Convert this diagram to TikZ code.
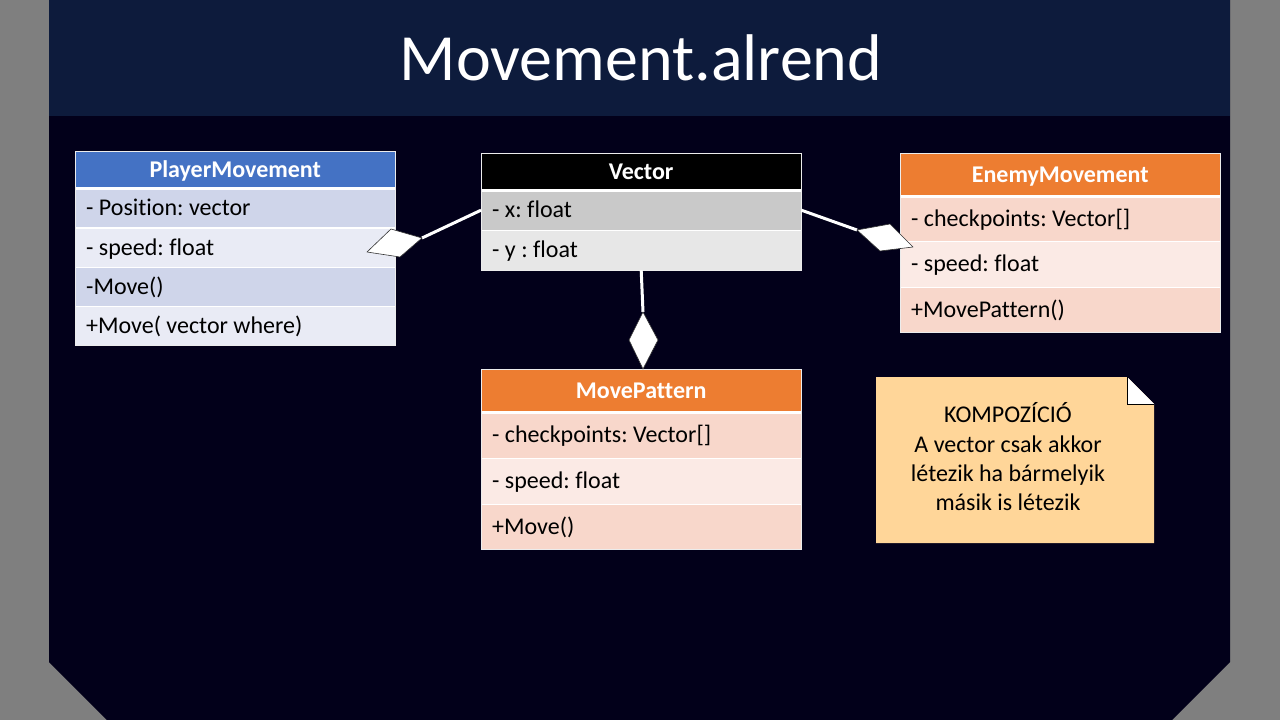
\documentclass[tikz,border=0pt]{standalone}
\usepackage{fontspec}
\setmainfont{Carlito}[Ligatures=NoCommon]
\frenchspacing
\definecolor{sidegray}{HTML}{7F7F7F}
\definecolor{panel}{HTML}{02001A}
\definecolor{band}{HTML}{0D1B3C}
\definecolor{blueH}{HTML}{4472C4}
\definecolor{blueA}{HTML}{CFD5EA}
\definecolor{blueB}{HTML}{E9EBF5}
\definecolor{grayA}{HTML}{C9C9C9}
\definecolor{grayB}{HTML}{E7E7E7}
\definecolor{orangeH}{HTML}{ED7D31}
\definecolor{orangeA}{HTML}{F8D7CB}
\definecolor{orangeB}{HTML}{FBEAE5}
\definecolor{notefill}{HTML}{FFD699}
\begin{document}
\begin{tikzpicture}[x=1pt,y=-1pt,
  clshead/.style={anchor=north west, minimum width=320, inner sep=0pt, text=white,
    font=\fontsize{24}{29}\selectfont\bfseries, text height=15.5pt, text depth=0pt},
  clsrow/.style={anchor=north west, minimum width=320, inner xsep=11pt, inner ysep=0pt,
    text width=298pt, align=flush left, text=black,
    font=\fontsize{24}{29}\selectfont\frenchspacing, text height=15.5pt, text depth=0pt},
  hsep/.style={white, line width=3pt},
  rsep/.style={white, line width=1.6pt},
  clsframe/.style={draw=white!85!gray, line width=1pt},
  conn/.style={white, line width=3pt},
  diam/.style={fill=white, draw=black!80, line width=0.6pt, line join=round},
]
\useasboundingbox (0,0) rectangle (1280,720);
% slide background and panel
\fill[sidegray] (0,0) rectangle (1280,720);
\fill[panel] (49,0) -- (1230,0) -- (1230,662) -- (1172,720) -- (107,720) -- (49,662) -- cycle;
\fill[band] (49,0) rectangle (1230,116);
\node[anchor=base, text=white, font=\fontsize{66}{70}\selectfont, inner sep=0pt] (title) at (641,80) {Movement.alrend};

% PlayerMovement
\node[clshead, fill=blueH, minimum height=37] (pmh) at (75,151) {PlayerMovement};
\node[clsrow, fill=blueA, minimum height=39.5] (pm1) at (75,188) {- Position: vector};
\node[clsrow, fill=blueB, minimum height=39.5] (pm2) at (75,227.5) {- speed: float};
\node[clsrow, fill=blueA, minimum height=39] (pm3) at (75,267) {-Move()};
\node[clsrow, fill=blueB, minimum height=39] (pm4) at (75,306) {+Move( vector where)};
\draw[hsep] (pmh.south west) -- (pmh.south east);
\draw[rsep] (pm1.south west) -- (pm1.south east);
\draw[rsep] (pm2.south west) -- (pm2.south east);
\draw[rsep] (pm3.south west) -- (pm3.south east);
\draw[clsframe] (pmh.north west) rectangle (pm4.south east);

% Vector
\node[clshead, fill=black, minimum height=37] (vh) at (481,153) {Vector};
\node[clsrow, fill=grayA, minimum height=40] (vx) at (481,190) {- x: float};
\node[clsrow, fill=grayB, minimum height=40] (vy) at (481,230) {- y : float};
\draw[hsep] (vh.south west) -- (vh.south east);
\draw[rsep] (vx.south west) -- (vx.south east);
\draw[clsframe] (vh.north west) rectangle (vy.south east);

% EnemyMovement
\node[clshead, fill=orangeH, minimum height=43.5] (emh) at (900,153) {EnemyMovement};
\node[clsrow, fill=orangeA, minimum height=44.5] (em1) at (900,196.5) {- checkpoints: Vector[]};
\node[clsrow, fill=orangeB, minimum height=46] (em2) at (900,241) {- speed: float};
\node[clsrow, fill=orangeA, minimum height=45.5] (em3) at (900,287) {+MovePattern()};
\draw[hsep] (emh.south west) -- (emh.south east);
\draw[rsep] (em1.south west) -- (em1.south east);
\draw[rsep] (em2.south west) -- (em2.south east);
\draw[clsframe] (emh.north west) rectangle (em3.south east);

% MovePattern
\node[clshead, fill=orangeH, minimum height=43] (mph) at (481,369) {MovePattern};
\node[clsrow, fill=orangeA, minimum height=46] (mp1) at (481,412) {- checkpoints: Vector[]};
\node[clsrow, fill=orangeB, minimum height=46] (mp2) at (481,458) {- speed: float};
\node[clsrow, fill=orangeA, minimum height=45.5] (mp3) at (481,504) {+Move()};
\draw[hsep] (mph.south west) -- (mph.south east);
\draw[rsep] (mp1.south west) -- (mp1.south east);
\draw[rsep] (mp2.south west) -- (mp2.south east);
\draw[clsframe] (mph.north west) rectangle (mp3.south east);

% composition connectors with filled diamonds
\coordinate (dl) at (422,238);
\coordinate (dr) at (857,230);
\coordinate (db) at (643,312);
\draw[conn] (vx.west) -- (dl);
\draw[conn] (vx.east) -- (dr);
\draw[conn] (vy.south) -- (db);
\draw[diam] (dl) -- (391,229) -- (367,252) -- (400,257) -- cycle;
\draw[diam] (dr) -- (890,224) -- (913,247) -- (880,251) -- cycle;
\draw[diam] (db) -- (658,340) -- (643,369) -- (629,340) -- cycle;

% note with folded corner
\fill[notefill] (876,377) -- (1127,377) -- (1154,404) -- (1154,543) -- (876,543) -- cycle;
\fill[white] (1127,377) -- (1127,404) -- (1154,404) -- cycle;
\draw[black, line width=0.8pt] (1127,377) -- (1127,404) -- (1154,404);
\node[align=center, font=\fontsize{24}{29.3}\selectfont, text=black, inner sep=0pt] (note) at (1008,457)
  {KOMPOZÍCIÓ\\A vector csak akkor\\létezik ha bármelyik\\másik is létezik};
\end{tikzpicture}
\end{document}
